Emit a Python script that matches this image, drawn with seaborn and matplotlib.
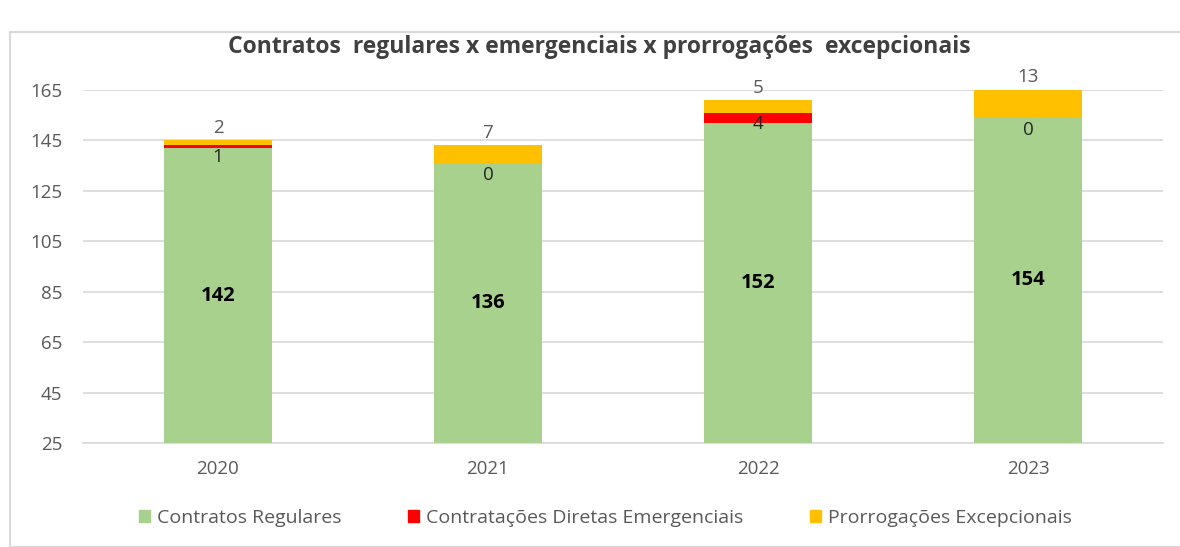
import matplotlib
matplotlib.use("Agg")
import matplotlib.pyplot as plt
import matplotlib.patches as mpatches
import seaborn as sns
import pandas as pd

# Values
years = ["2020", "2021", "2022", "2023"]
regulares = [142, 136, 152, 154]
emergenciais = [1, 0, 4, 0]
prorrogacoes = [2, 7, 5, 13]
yticks = [25, 45, 65, 85, 105, 125, 145, 165]

green = "#A9D18E"
red = "#FF0000"
yellow = "#FFC000"
grey_txt = "#595959"

df = pd.DataFrame({"ano": years, "reg": regulares, "emerg": emergenciais, "prorr": prorrogacoes})
df["reg_emerg"] = df["reg"] + df["emerg"]
df["total"] = df["reg_emerg"] + df["prorr"]

sns.set_style("white")
plt.rcParams["font.family"] = ["Open Sans", "DejaVu Sans"]

fig = plt.figure(figsize=(11.8, 5.47), dpi=100)
ax = fig.add_axes([0.0703, 0.19, 0.9153, 0.6455])

# frame around the chart area
fig.patches.append(mpatches.Rectangle((10 / 1180, 0), 1.0, 1 - 32 / 547, transform=fig.transFigure,
                                      fill=False, edgecolor="#D9D9D9", linewidth=1.5, zorder=0))

# stacked bars drawn as overlays (total -> reg+emerg -> reg)
for col, c, z in [("total", yellow, 3), ("reg_emerg", red, 4), ("reg", green, 5)]:
    sns.barplot(data=df, x="ano", y=col, color=c, width=0.4, saturation=1, ax=ax,
                zorder=z, linewidth=0, edgecolor="none")

ax.set_ylim(25, 165)
ax.set_xlim(-0.5, 3.5)
ax.set_yticks(yticks)
ax.yaxis.grid(True, color="#D9D9D9", linewidth=1.2)
ax.set_axisbelow(True)
for s in ["left", "right", "top"]:
    ax.spines[s].set_visible(False)
ax.spines["bottom"].set_color("#D9D9D9")
ax.spines["bottom"].set_linewidth(1.2)
ax.tick_params(axis="both", length=0, labelsize=13.5, colors=grey_txt)
ax.tick_params(axis="x", pad=12)
ax.tick_params(axis="y", pad=15)
ax.set_xlabel("")
ax.set_ylabel("")

for i in range(len(years)):
    r, e, p = regulares[i], emergenciais[i], prorrogacoes[i]
    ax.text(i, (25 + r) / 2, str(r), ha="center", va="center", fontsize=14.5,
            fontweight="bold", color="black", zorder=6)
    ax.annotate(str(e), (i, r + e), xytext=(0, -2), textcoords="offset points",
                ha="center", va="top", fontsize=13.5, color="#262626", zorder=6)
    ax.annotate(str(p), (i, min(r + e + p, 165)), xytext=(0, 9), textcoords="offset points",
                ha="center", va="center", fontsize=13.5, color=grey_txt, zorder=6,
                annotation_clip=False)

fig.text(0.508, 1 - 47 / 547, "Contratos  regulares x emergenciais x prorrogações  excepcionais",
         ha="center", va="center", fontsize=16.5, fontweight="bold", color="#404040")

handles = [mpatches.Patch(color=green, label="Contratos Regulares"),
           mpatches.Patch(color=red, label="Contratações Diretas Emergenciais"),
           mpatches.Patch(color=yellow, label="Prorrogações Excepcionais")]
fig.legend(handles=handles, loc="center", bbox_to_anchor=(0.513, 1 - 518 / 547), ncol=3,
           frameon=False, fontsize=14, handlelength=0.6, handleheight=0.6,
           columnspacing=3.4, handletextpad=0.35, labelcolor=grey_txt)

fig.savefig("out.png", dpi=100)
